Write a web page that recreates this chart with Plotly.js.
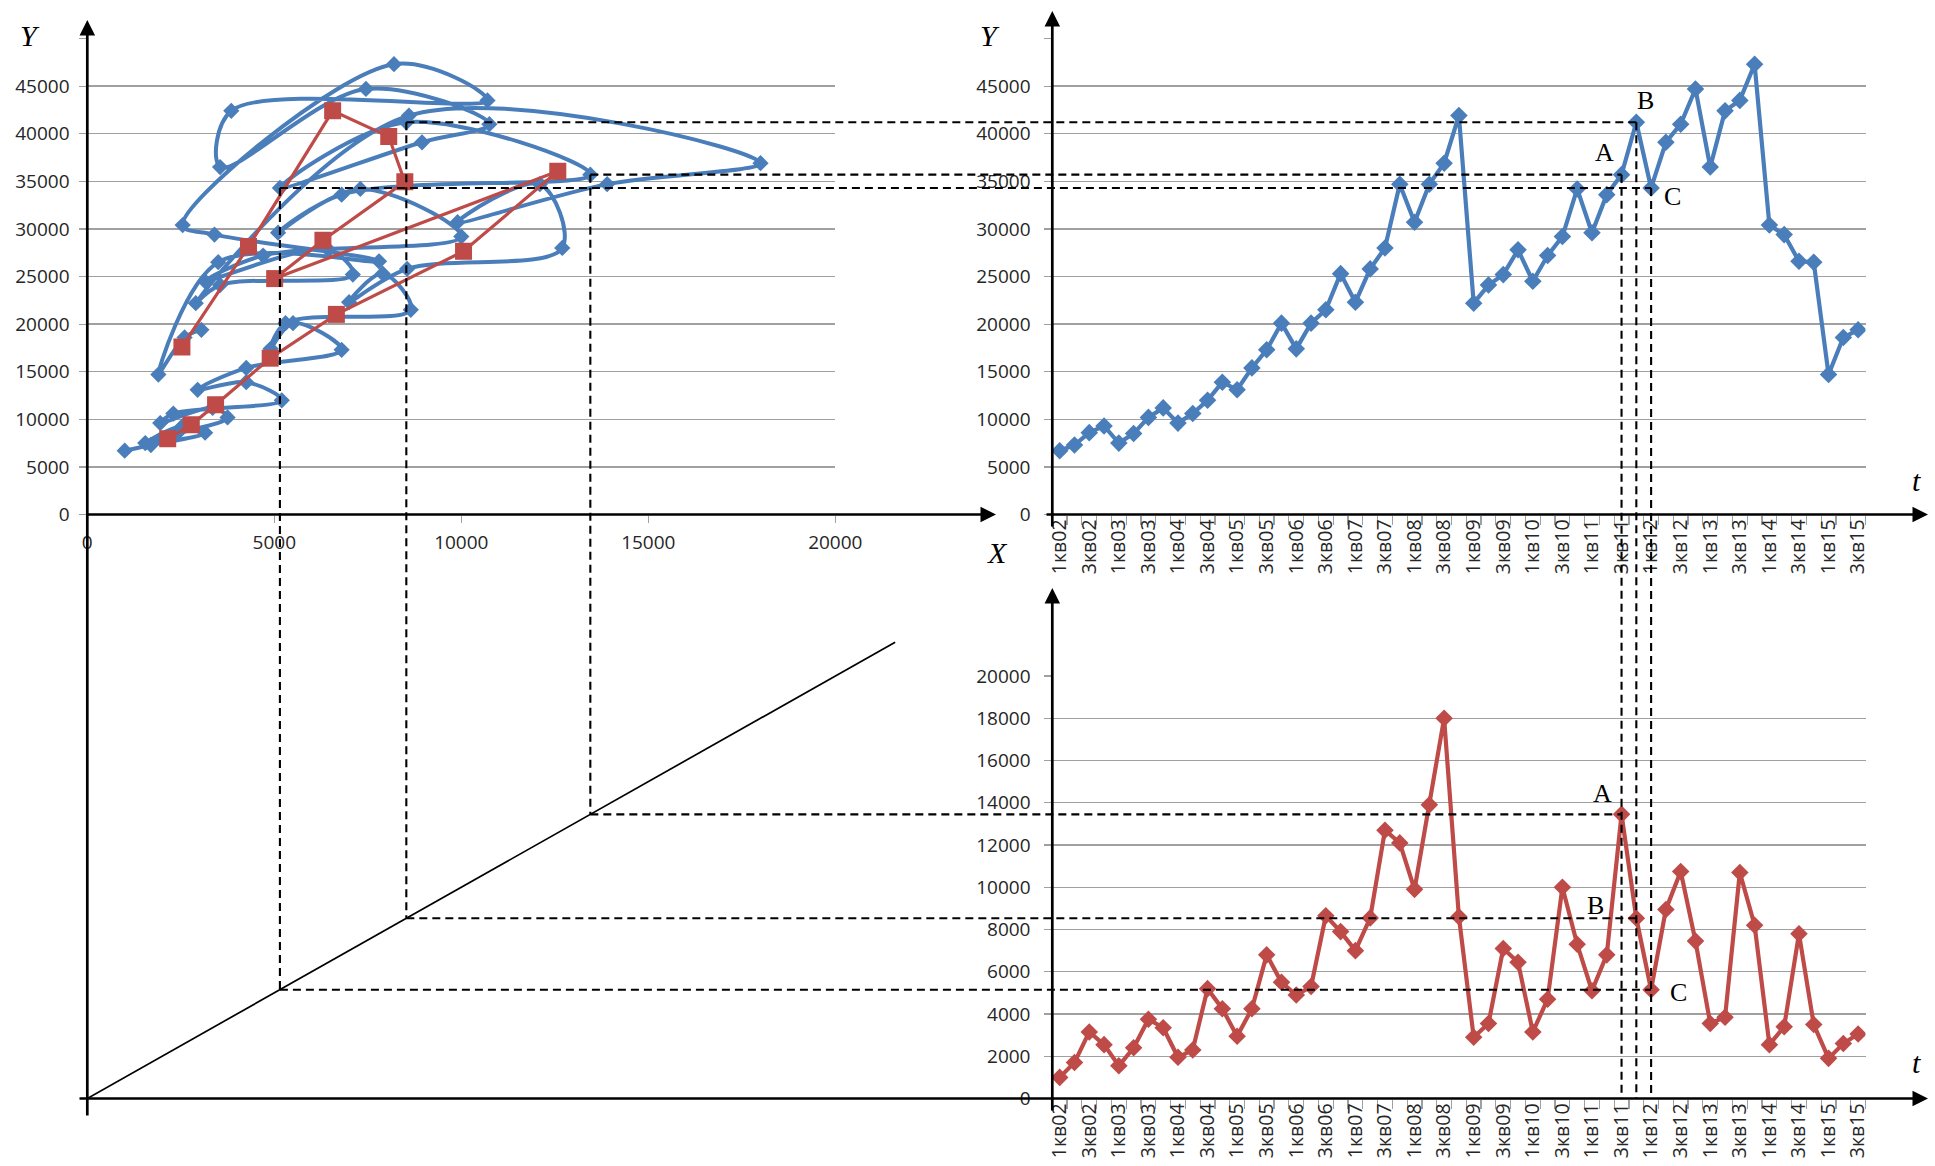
<!DOCTYPE html>
<html>
<head>
<meta charset="utf-8">
<script src="https://cdn.plot.ly/plotly-3.0.1.min.js"></script>
<style>
html,body{margin:0;padding:0;background:#fff;}
#chart{width:1935px;height:1166px;}
</style>
</head>
<body>
<div id="chart"></div>
<script>
// ---------------- DATA ----------------
const quarters = [
  "1кв02","2кв02","3кв02","4кв02",
  "1кв03","2кв03","3кв03","4кв03",
  "1кв04","2кв04","3кв04","4кв04",
  "1кв05","2кв05","3кв05","4кв05",
  "1кв06","2кв06","3кв06","4кв06",
  "1кв07","2кв07","3кв07","4кв07",
  "1кв08","2кв08","3кв08","4кв08",
  "1кв09","2кв09","3кв09","4кв09",
  "1кв10","2кв10","3кв10","4кв10",
  "1кв11","2кв11","3кв11","4кв11",
  "1кв12","2кв12","3кв12","4кв12",
  "1кв13","2кв13","3кв13","4кв13",
  "1кв14","2кв14","3кв14","4кв14",
  "1кв15","2кв15","3кв15"
];
// Y series (top-right panel)
const ySeries = [
  6700, 7300, 8600, 9300,
  7500, 8500, 10200, 11200,
  9600, 10600, 12000, 13900,
  13100, 15400, 17300, 20100,
  17400, 20100, 21500, 25300,
  22300, 25800, 28000, 34700,
  30700, 34700, 36900, 41900,
  22200, 24100, 25200, 27800,
  24500, 27200, 29200, 34200,
  29600, 33600, 35700, 41200,
  34300, 39100, 41000, 44700,
  36500, 42400, 43500, 47300,
  30400, 29400, 26600, 26500,
  14700, 18600, 19400
];
// X series (bottom-right panel)
const xSeries = [
  1000, 1700, 3150, 2550,
  1550, 2400, 3750, 3350,
  1950, 2300, 5200, 4250,
  2950, 4250, 6800, 5500,
  4900, 5300, 8650, 7900,
  7000, 8550, 12700, 12100,
  9900, 13900, 18000, 8600,
  2900, 3550, 7100, 6450,
  3150, 4700, 10000, 7300,
  5100, 6800, 13450, 8530,
  5150, 8950, 10750, 7450,
  3550, 3850, 10700, 8200,
  2550, 3400, 7800, 3500,
  1900, 2600, 3050
];
// red squares in the phase plot (yearly points 2002..2015)
const yearX = [2150, 2780, 3430, 4890, 6660, 10060, 12580, 5010, 6300, 8490, 8060, 6560, 4310, 2530];
const yearY = [7950, 9420, 11520, 16420, 21020, 27650, 36060, 24780, 28800, 34950, 39700, 42400, 28150, 17600];
// 45-degree transfer line in the lower-left panel
const diagX = [0, 21600];
const diagY = [0, 21600];
// tick labels
const yTickVals = [0, 5000, 10000, 15000, 20000, 25000, 30000, 35000, 40000, 45000, 50000];
const yTickText = ["0", "5000", "10000", "15000", "20000", "25000", "30000", "35000", "40000", "45000", ""];
const xTickVals = [0, 5000, 10000, 15000, 20000];
const xTickText = ["0", "5000", "10000", "15000", "20000"];
const x3TickVals = [0, 2000, 4000, 6000, 8000, 10000, 12000, 14000, 16000, 18000, 20000];
const x3TickText = ["0", "2000", "4000", "6000", "8000", "10000", "12000", "14000", "16000", "18000", "20000"];
// marked points
const markQuarters = ["3кв11", "4кв11", "1кв12"];
const markLetters = ["A", "B", "C"];

// ---------------- GEOMETRY / STYLE ----------------
const W = 1935, H = 1166;
const fx = p => p / W;
const fy = p => 1 - p / H;
const G = {
  lx0: 87.3, lx1: 835.3,      // top-left X axis: 0 .. 20000
  rx0: 1052.3, rx1: 1865.5,   // category axes
  ty0: 514.5, ty1: 38.5,      // top Y axes: 0 .. 50000
  by0: 1098.5, by1: 676,      // bottom-right X axis: 0 .. 20000
  blx1: 1003, bly1: 584       // extent of lower-left panel
};
const xMax = 20000, yMax = 50000, x3Max = 20000;
const x4Max = xMax * (G.blx1 - G.lx0) / (G.lx1 - G.lx0);
const y4Max = x3Max * (G.by0 - G.bly1) / (G.by0 - G.by1);

const BLUE = "#4a7ebb", RED = "#be4b48";
const gridColor = "#a0a0a0";
const tickFont = {family: "Open Sans, sans-serif", size: 19, color: "#262626"};
const catFont = {family: "Open Sans, sans-serif", size: 19.5, color: "#262626"};

const baseAx = {
  showline: false, zeroline: false, fixedrange: true, automargin: false,
  ticks: "outside", ticklen: 7, tickwidth: 1.2, tickcolor: gridColor,
  tickfont: tickFont, autorange: false
};

const catTickText = quarters.map((q, i) => (i % 2 === 0 ? q : ""));

const layout = {
  width: W, height: H,
  margin: {l: 0, r: 0, t: 0, b: 0, pad: 0},
  paper_bgcolor: "#fff",
  plot_bgcolor: "rgba(0,0,0,0)",
  showlegend: false,
  font: {family: "Open Sans, sans-serif", color: "#262626"},
  xaxis: Object.assign({}, baseAx, {
    domain: [fx(G.lx0), fx(G.lx1)], range: [0, xMax], anchor: "y",
    tickmode: "array", tickvals: xTickVals, ticktext: xTickText,
    showgrid: false, ticklabelstandoff: 4
  }),
  yaxis: Object.assign({}, baseAx, {
    domain: [fy(G.ty0), fy(G.ty1)], range: [0, yMax], anchor: "x",
    tickmode: "array", tickvals: yTickVals, ticktext: yTickText,
    showgrid: true, gridcolor: gridColor, gridwidth: 1.3, ticklabelstandoff: 6
  }),
  xaxis2: Object.assign({}, baseAx, {
    type: "category", domain: [fx(G.rx0), fx(G.rx1)],
    range: [-0.5, quarters.length - 0.5], anchor: "y2",
    tickmode: "array", tickvals: quarters, ticktext: catTickText,
    tickson: "boundaries", ticklen: 9, tickangle: -90, tickfont: catFont,
    showgrid: false
  }),
  yaxis2: Object.assign({}, baseAx, {
    domain: [fy(G.ty0), fy(G.ty1)], range: [0, yMax], anchor: "x2",
    tickmode: "array", tickvals: yTickVals, ticktext: yTickText,
    showgrid: true, gridcolor: gridColor, gridwidth: 1.3, ticklabelstandoff: 10
  }),
  xaxis3: Object.assign({}, baseAx, {
    type: "category", domain: [fx(G.rx0), fx(G.rx1)],
    range: [-0.5, quarters.length - 0.5], anchor: "y3",
    tickmode: "array", tickvals: quarters, ticktext: catTickText,
    tickson: "boundaries", ticklen: 9, tickangle: -90, tickfont: catFont,
    showgrid: false
  }),
  yaxis3: Object.assign({}, baseAx, {
    domain: [fy(G.by0), fy(G.by1)], range: [0, x3Max], anchor: "x3",
    tickmode: "array", tickvals: x3TickVals, ticktext: x3TickText,
    showgrid: true, gridcolor: gridColor, gridwidth: 1.3, ticklabelstandoff: 10
  }),
  xaxis4: {domain: [fx(G.lx0), fx(G.blx1)], range: [0, x4Max], anchor: "y4", visible: false, fixedrange: true, autorange: false},
  yaxis4: {domain: [fy(G.by0), fy(G.bly1)], range: [0, y4Max], anchor: "x4", visible: false, fixedrange: true, autorange: false},
  annotations: [],
  shapes: []
};

// axis lines with arrowheads (tip, tail in pixels)
function axisArrow(tipX, tipY, tailX, tailY) {
  return {
    xref: "paper", yref: "paper", x: fx(tipX), y: fy(tipY),
    axref: "pixel", ayref: "pixel", ax: tailX - tipX, ay: tailY - tipY,
    text: "", showarrow: true, arrowhead: 2, arrowsize: 1.15, arrowwidth: 2.7,
    arrowcolor: "#000", standoff: 0, startstandoff: 0
  };
}
layout.annotations.push(axisArrow(G.lx0, 20, G.lx0, 1117));
layout.annotations.push(axisArrow(996, G.ty0, G.lx0 - 1, G.ty0));
layout.annotations.push(axisArrow(G.rx0, 11, G.rx0, 528));
layout.annotations.push(axisArrow(1928, G.ty0, 1045, G.ty0));
layout.annotations.push(axisArrow(G.rx0, 588, G.rx0, 1112));
layout.annotations.push(axisArrow(1928, G.by0, 78, G.by0));

// axis letters
function letter(txt, x, y, size, italic) {
  return {
    xref: "paper", yref: "paper", x: fx(x), y: fy(y), xanchor: "center", yanchor: "middle",
    text: txt, showarrow: false,
    font: {family: "Liberation Serif, Times New Roman, serif", size: size, color: "#000", style: italic ? "italic" : "normal"}
  };
}
layout.annotations.push(letter("Y", 30, 35, 30, true));
layout.annotations.push(letter("Y", 990, 35, 30, true));
layout.annotations.push(letter("X", 997, 552, 30, true));
layout.annotations.push(letter("t", 1916, 480, 30, true));
layout.annotations.push(letter("t", 1916, 1062, 30, true));

// A, B, C marks next to the points
const topOff = [[-17, 22], [9, 22], [21, -9]];
const botOff = [[-19, 21], [-41, 13], [27, -3]];
markQuarters.forEach((q, k) => {
  const i = quarters.indexOf(q);
  const f = {family: "Liberation Serif, Times New Roman, serif", size: 26, color: "#000"};
  layout.annotations.push({xref: "x2", yref: "y2", x: q, y: ySeries[i], text: markLetters[k],
    showarrow: false, xshift: topOff[k][0], yshift: topOff[k][1], font: f});
  layout.annotations.push({xref: "x3", yref: "y3", x: q, y: xSeries[i], text: markLetters[k],
    showarrow: false, xshift: botOff[k][0], yshift: botOff[k][1], font: f});
});

// ---------------- TRACES ----------------
const traces = [
  { // phase plot, smoothed quarterly path
    x: xSeries, y: ySeries, xaxis: "x", yaxis: "y", type: "scatter", mode: "lines+markers",
    line: {color: BLUE, width: 4, shape: "spline", smoothing: 1},
    marker: {symbol: "diamond", size: 12.5, color: BLUE}
  },
  { // phase plot, yearly points
    x: yearX, y: yearY, xaxis: "x", yaxis: "y", type: "scatter", mode: "lines+markers",
    line: {color: RED, width: 3.2},
    marker: {symbol: "square", size: 17, color: RED}
  },
  { // Y over time
    x: quarters, y: ySeries, xaxis: "x2", yaxis: "y2", type: "scatter", mode: "lines+markers",
    line: {color: BLUE, width: 4.2},
    marker: {symbol: "diamond", size: 13.5, color: BLUE}
  },
  { // X over time
    x: quarters, y: xSeries, xaxis: "x3", yaxis: "y3", type: "scatter", mode: "lines+markers",
    line: {color: RED, width: 4.2},
    marker: {symbol: "diamond", size: 13.5, color: RED}
  },
  { // transfer line
    x: diagX, y: diagY, xaxis: "x4", yaxis: "y4", type: "scatter", mode: "lines",
    line: {color: "#000", width: 1.7}
  }
];

const gd = document.getElementById("chart");
Plotly.newPlot(gd, traces, layout, {staticPlot: true, displayModeBar: false}).then(function () {
  const fl = gd._fullLayout;
  const P = (name, v) => { const ax = fl[name]; return ax._offset + ax.l2p(v); };
  const toX = p => (p - fl._size.l) / fl._size.w;
  const toY = p => 1 - (p - fl._size.t) / fl._size.h;
  const shapes = [];
  const seg = (x0, y0, x1, y1) => shapes.push({
    type: "line", xref: "paper", yref: "paper",
    x0: toX(x0), y0: toY(y0), x1: toX(x1), y1: toY(y1),
    line: {color: "#000", width: 2.1, dash: "8px,5px"}, layer: "above"
  });
  markQuarters.forEach(q => {
    const i = quarters.indexOf(q);
    const X = xSeries[i], Y = ySeries[i];
    const sx = P("xaxis", X), sy = P("yaxis", Y);       // phase-plot point
    const tx = P("xaxis2", i), ty = P("yaxis2", Y);     // Y(t) point
    const dx = P("xaxis4", X), dy = P("yaxis4", X);     // point on transfer line
    const bx = P("xaxis3", i), by = P("yaxis3", X);     // X(t) point
    const b0 = P("yaxis3", 0);
    seg(sx, sy, tx, ty);
    seg(sx, sy, dx, dy);
    seg(dx, dy, bx, by);
    seg(tx, ty, bx, b0);
  });
  return Plotly.relayout(gd, {shapes: shapes});
});
</script>
</body>
</html>
